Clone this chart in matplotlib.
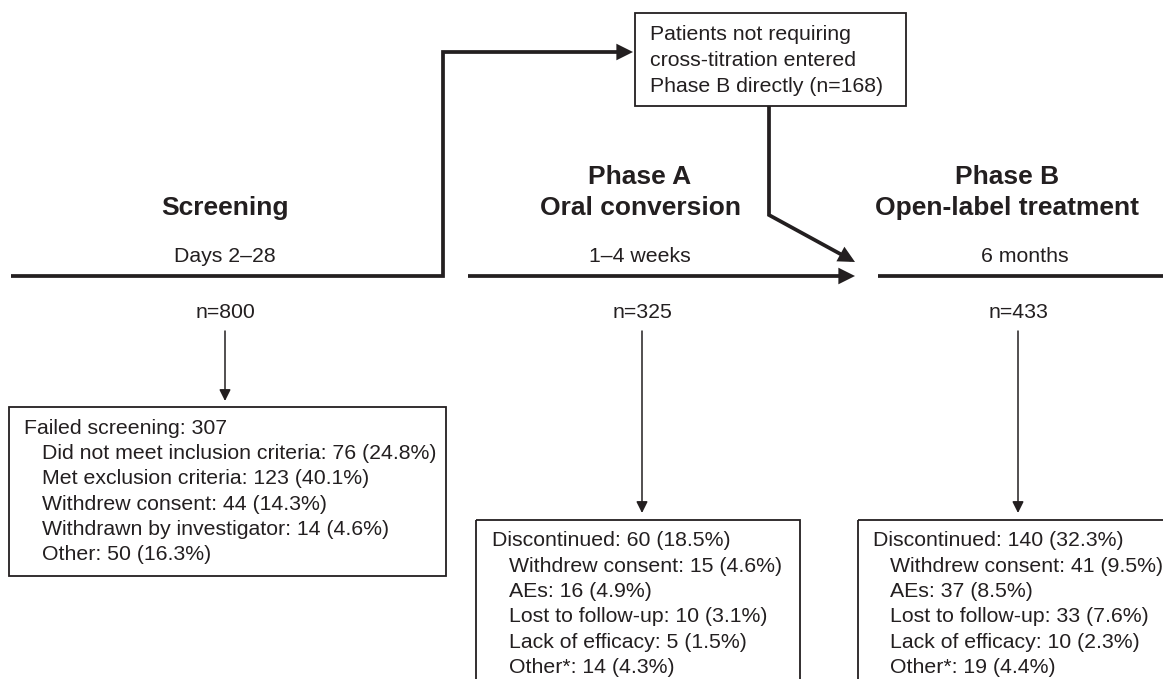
import matplotlib.pyplot as plt
from matplotlib.patches import Rectangle, FancyArrowPatch
from matplotlib.path import Path

plt.rcParams['font.family'] = ['Liberation Sans', 'DejaVu Sans']

# --- data ---
phase_titles = ['Screening', 'Phase A\nOral conversion', 'Phase B\nOpen-label treatment']
phase_durations = ['Days 2\u201328', '1\u20134 weeks', '6 months']
phase_n = [800, 325, 433]
direct_to_b = 168

screen_fail_total = 307
screen_reasons = ['Did not meet inclusion criteria', 'Met exclusion criteria',
                  'Withdrew consent', 'Withdrawn by investigator', 'Other']
screen_counts = [76, 123, 44, 14, 50]
screen_pcts = [24.8, 40.1, 14.3, 4.6, 16.3]

disc_reasons = ['Withdrew consent', 'AEs', 'Lost to follow-up', 'Lack of efficacy', 'Other*']
phase_a_disc = (60, 18.5)
phase_a_counts = [15, 16, 10, 5, 14]
phase_a_pcts = [4.6, 4.9, 3.1, 1.5, 4.3]
phase_b_disc = (140, 32.3)
phase_b_counts = [41, 37, 33, 10, 19]
phase_b_pcts = [9.5, 8.5, 7.6, 2.3, 4.4]

INK = '#231f20'
FS = 15.3
FS_TITLE = 19

fig = plt.figure(figsize=(11.63, 6.79), dpi=100)
ax = fig.add_axes([0, 0, 1, 1])
ax.set_xlim(0, 1163)
ax.set_ylim(679, 0)
ax.axis('off')


def thick_arrow(verts, head=True):
    path = Path(verts)
    style = '-|>' if head else '-'
    ax.add_patch(FancyArrowPatch(path=path, arrowstyle=style, mutation_scale=19,
                                 lw=2.7, color=INK, joinstyle='miter',
                                 capstyle='butt', shrinkA=0, shrinkB=0))


def thin_arrow(x, y0, y1):
    ax.add_patch(FancyArrowPatch((x, y0), (x, y1), arrowstyle='-|>',
                                 mutation_scale=17, lw=1.1, color=INK,
                                 shrinkA=0, shrinkB=0))


def text_box(x0, y0, x1, y1, lines, tx, indent, ty, dy):
    ax.add_patch(Rectangle((x0, y0), x1 - x0, y1 - y0, fill=False,
                           edgecolor=INK, lw=1.3))
    for i, s in enumerate(lines):
        ax.text(tx if i == 0 else tx + indent, ty + i * dy, s, fontsize=FS,
                color=INK, ha='left', va='center')


# timeline and flow arrows
thick_arrow([(11, 276), (443, 276), (443, 52), (633, 52)])
thick_arrow([(769, 106), (769, 215), (855, 262)])
thick_arrow([(468, 276), (855, 276)])
thick_arrow([(878, 276), (1170, 276)], head=False)

# box for patients going straight to phase B
ax.add_patch(Rectangle((635, 13), 271, 93, fill=False, edgecolor=INK, lw=1.3))
for i, s in enumerate(['Patients not requiring', 'cross-titration entered',
                       f'Phase B directly (n={direct_to_b})']):
    ax.text(650, 35 + i * 25.5, s, fontsize=FS, color=INK, ha='left', va='center')

# phase headings
title_x = [225, 640, 1007]
dur_x = [225, 640, 1025]
for tx, dx, title, dur in zip(title_x, dur_x, phase_titles, phase_durations):
    parts = title.split('\n')
    for j, p in enumerate(parts):
        ax.text(tx, 208 - (len(parts) - 1 - j) * 31, p, fontsize=FS_TITLE,
                fontweight='bold', color=INK, ha='center', va='center')
    ax.text(dx, 257, dur, fontsize=FS, color=INK, ha='center', va='center')

# n labels and down arrows
n_x = [225, 642, 1018]
arrow_end = [401, 513, 513]
for x, n, ye in zip(n_x, phase_n, arrow_end):
    ax.text(x, 313, f'n={n}', fontsize=FS, color=INK, ha='center', va='center')
    thin_arrow(x, 331, ye)

# outcome boxes
screen_lines = [f'Failed screening: {screen_fail_total}'] + [
    f'{r}: {c} ({p}%)' for r, c, p in zip(screen_reasons, screen_counts, screen_pcts)]
text_box(9, 407, 446, 576, screen_lines, 24, 18, 428, 25.4)

a_lines = [f'Discontinued: {phase_a_disc[0]} ({phase_a_disc[1]}%)'] + [
    f'{r}: {c} ({p}%)' for r, c, p in zip(disc_reasons, phase_a_counts, phase_a_pcts)]
text_box(476, 520, 800, 700, a_lines, 492, 17, 541, 25.3)

b_lines = [f'Discontinued: {phase_b_disc[0]} ({phase_b_disc[1]}%)'] + [
    f'{r}: {c} ({p}%)' for r, c, p in zip(disc_reasons, phase_b_counts, phase_b_pcts)]
text_box(858, 520, 1175, 700, b_lines, 873, 17, 541, 25.3)

fig.savefig('out.png', dpi=100)
